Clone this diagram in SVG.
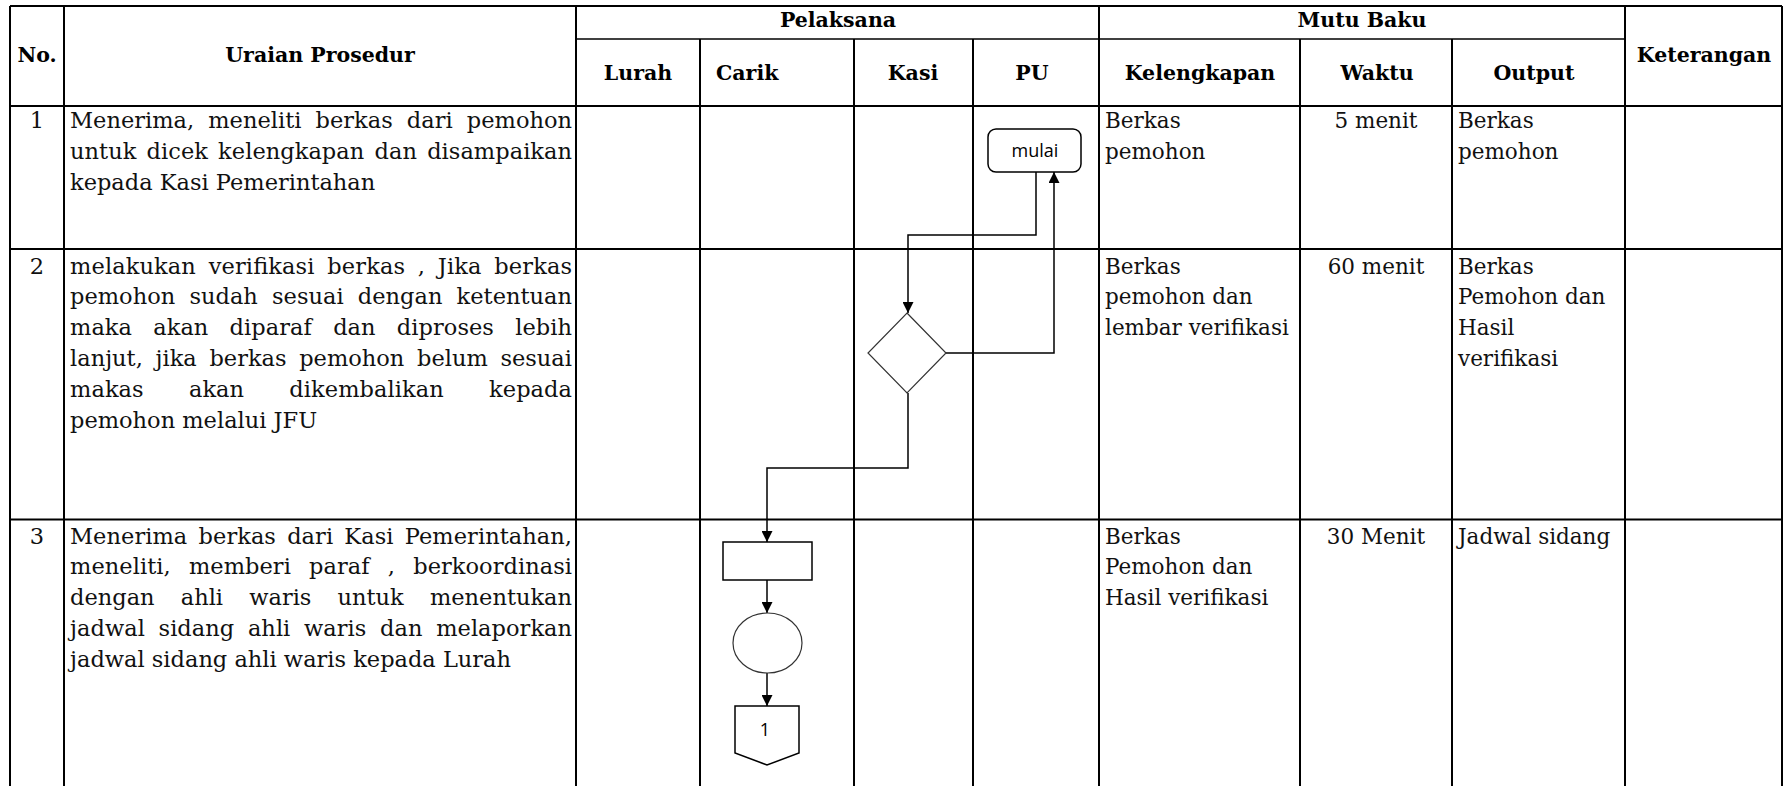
<svg xmlns="http://www.w3.org/2000/svg" width="1788" height="786" viewBox="0 0 1788 786">
<style>
.g{stroke:#000;stroke-width:2;fill:none}
.g2{stroke:#000;stroke-width:1.5;fill:none}
.h{font-family:"DejaVu Serif","Liberation Serif",serif;font-weight:bold;font-size:20.5px;fill:#000}
.t{font-family:"DejaVu Serif","Liberation Serif",serif;font-size:22.5px;fill:#111}
.m{font-family:"DejaVu Serif","Liberation Serif",serif;font-size:21.5px;fill:#111}
.f{font-family:"Open Sans","Liberation Sans",sans-serif;font-size:18px;fill:#000}
.c{stroke:#000;stroke-width:1.5;fill:none;marker-end:url(#arr)}
.s{fill:#fff;stroke:#000;stroke-width:1.5}
.s2{fill:#fff;stroke:#333;stroke-width:1.2}
</style>
<defs>
<marker id="arr" viewBox="0 0 10 10" refX="10" refY="5" markerWidth="11" markerHeight="11" markerUnits="userSpaceOnUse" orient="auto">
<path d="M0,0 L10,5 L0,10 z" fill="#000"/>
</marker>
</defs>
<rect width="1788" height="786" fill="#fff"/>
<g id="grid">
<line class="g" x1="10" y1="6" x2="1782" y2="6"/>
<line class="g2" x1="576" y1="39" x2="1625" y2="39"/>
<line class="g" x1="10" y1="106" x2="1782" y2="106"/>
<line class="g" x1="10" y1="249" x2="1782" y2="249"/>
<line class="g" x1="10" y1="519.5" x2="1782" y2="519.5"/>
<line class="g" x1="10" y1="6" x2="10" y2="786"/>
<line class="g" x1="64" y1="6" x2="64" y2="786"/>
<line class="g" x1="576" y1="6" x2="576" y2="786"/>
<line class="g" x1="700" y1="39" x2="700" y2="786"/>
<line class="g" x1="854" y1="39" x2="854" y2="786"/>
<line class="g" x1="973" y1="39" x2="973" y2="786"/>
<line class="g" x1="1099" y1="6" x2="1099" y2="786"/>
<line class="g" x1="1300" y1="39" x2="1300" y2="786"/>
<line class="g" x1="1452" y1="39" x2="1452" y2="786"/>
<line class="g" x1="1625" y1="6" x2="1625" y2="786"/>
<line class="g" x1="1782" y1="6" x2="1782" y2="786"/>
</g>
<g id="header">
<text class="h" x="37" y="62" text-anchor="middle">No.</text>
<text class="h" x="320" y="62" text-anchor="middle">Uraian Prosedur</text>
<text class="h" x="838" y="27" text-anchor="middle">Pelaksana</text>
<text class="h" x="1362" y="27" text-anchor="middle">Mutu Baku</text>
<text class="h" x="638" y="80" text-anchor="middle">Lurah</text>
<text class="h" x="716" y="80">Carik</text>
<text class="h" x="913" y="80" text-anchor="middle">Kasi</text>
<text class="h" x="1032" y="80" text-anchor="middle">PU</text>
<text class="h" x="1200" y="80" text-anchor="middle">Kelengkapan</text>
<text class="h" x="1377" y="80" text-anchor="middle">Waktu</text>
<text class="h" x="1534" y="80" text-anchor="middle">Output</text>
<text class="h" x="1704" y="62" text-anchor="middle">Keterangan</text>
</g>
<g id="row1">
<text class="t" x="37" y="128" text-anchor="middle">1</text>
<text class="t" x="70" y="128" textLength="502" lengthAdjust="spacing" style="word-spacing:7px">Menerima, meneliti berkas dari pemohon</text>
<text class="t" x="70" y="159" textLength="502" lengthAdjust="spacing" style="word-spacing:3px">untuk dicek kelengkapan dan disampaikan</text>
<text class="t" x="70" y="190">kepada Kasi Pemerintahan</text>
<text class="m" x="1105" y="128">Berkas</text>
<text class="m" x="1105" y="159">pemohon</text>
<text class="m" x="1376" y="128" text-anchor="middle">5 menit</text>
<text class="m" x="1458" y="128">Berkas</text>
<text class="m" x="1458" y="159">pemohon</text>
</g>
<g id="row2">
<text class="t" x="37" y="273.5" text-anchor="middle">2</text>
<text class="t" x="70" y="273.5" textLength="502" lengthAdjust="spacing" style="word-spacing:5.5px">melakukan verifikasi berkas , Jika berkas</text>
<text class="t" x="70" y="304.3" textLength="502" lengthAdjust="spacing" style="word-spacing:7px">pemohon sudah sesuai dengan ketentuan</text>
<text class="t" x="70" y="335.1" textLength="502" lengthAdjust="spacing" style="word-spacing:14px">maka akan diparaf dan diproses lebih</text>
<text class="t" x="70" y="365.9" textLength="502" lengthAdjust="spacing" style="word-spacing:5.5px">lanjut, jika berkas pemohon belum sesuai</text>
<text class="t" x="70" y="396.7" textLength="502" lengthAdjust="spacing" style="word-spacing:38px">makas akan dikembalikan kepada</text>
<text class="t" x="70" y="427.5">pemohon melalui JFU</text>
<text class="m" x="1105" y="273.5">Berkas</text>
<text class="m" x="1105" y="304.3">pemohon dan</text>
<text class="m" x="1105" y="335.1">lembar verifikasi</text>
<text class="m" x="1376" y="273.5" text-anchor="middle">60 menit</text>
<text class="m" x="1458" y="273.5">Berkas</text>
<text class="m" x="1458" y="304.3">Pemohon dan</text>
<text class="m" x="1458" y="335.1">Hasil</text>
<text class="m" x="1458" y="365.9">verifikasi</text>
</g>
<g id="row3">
<text class="t" x="37" y="543.5" text-anchor="middle">3</text>
<text class="t" x="70" y="543.5" textLength="502" lengthAdjust="spacing" style="word-spacing:4px">Menerima berkas dari Kasi Pemerintahan,</text>
<text class="t" x="70" y="574.3" textLength="502" lengthAdjust="spacing" style="word-spacing:11px">meneliti, memberi paraf , berkoordinasi</text>
<text class="t" x="70" y="605.1" textLength="502" lengthAdjust="spacing" style="word-spacing:19px">dengan ahli waris untuk menentukan</text>
<text class="t" x="70" y="635.9" textLength="502" lengthAdjust="spacing" style="word-spacing:6.5px">jadwal sidang ahli waris dan melaporkan</text>
<text class="t" x="70" y="666.7">jadwal sidang ahli waris kepada Lurah</text>
<text class="m" x="1105" y="543.5">Berkas</text>
<text class="m" x="1105" y="574.3">Pemohon dan</text>
<text class="m" x="1105" y="605.1">Hasil verifikasi</text>
<text class="m" x="1376" y="543.5" text-anchor="middle">30 Menit</text>
<text class="m" x="1458" y="543.5">Jadwal sidang</text>
</g>
<g id="connectors">
<path class="c" d="M1036,172 V235 H908 V313"/>
<path class="c" d="M946,353 H1054 V172"/>
<path class="c" d="M908,393 V468 H767 V542"/>
<path class="c" d="M767,580 V613"/>
<path class="c" d="M767,673 V706"/>
</g>
<g id="node-mulai">
<rect class="s" x="988" y="129" width="93" height="43" rx="8"/>
<text class="f" x="1035" y="157" text-anchor="middle">mulai</text>
</g>
<g id="node-decision">
<polygon class="s2" points="907,313 946,353 907,393 868,353"/>
</g>
<g id="node-process">
<rect class="s" x="723" y="542" width="89" height="38"/>
</g>
<g id="node-circle">
<ellipse class="s2" cx="767.5" cy="643" rx="34.5" ry="30"/>
</g>
<g id="node-offpage">
<polygon class="s" points="735,706 799,706 799,753 767,765 735,753"/>
<text class="f" x="765" y="736" text-anchor="middle">1</text>
</g>
</svg>
